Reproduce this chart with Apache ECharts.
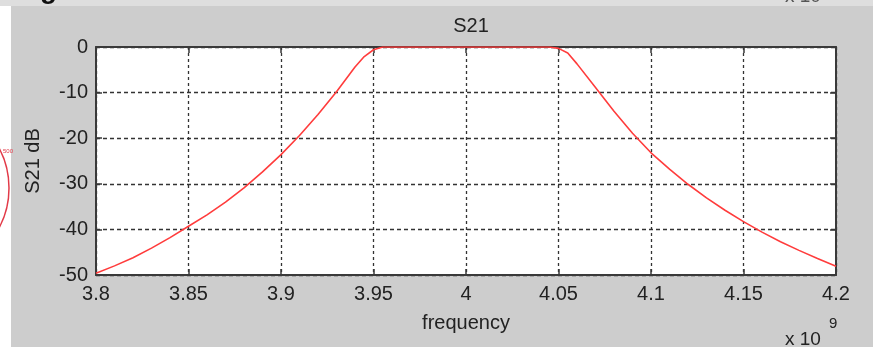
<!DOCTYPE html>
<html>
<head>
<meta charset="utf-8">
<script src="https://cdn.jsdelivr.net/npm/echarts@6/dist/echarts.min.js"></script>
<style>
html,body{margin:0;padding:0;background:#cdcdcd;}
#chart{width:873px;height:347px;}
</style>
</head>
<body>
<div id="chart"></div>
<script>
// Frequency in units of 1e9 Hz
var freq = [3.80, 3.81, 3.82, 3.83, 3.84, 3.85, 3.86, 3.87, 3.88, 3.89, 3.90, 3.91, 3.92, 3.93, 3.94, 3.945, 3.95, 3.955, 4.00, 4.045, 4.05, 4.055, 4.06, 4.07, 4.08, 4.09, 4.10, 4.11, 4.12, 4.13, 4.14, 4.15, 4.16, 4.17, 4.18, 4.19, 4.20];
var s21dB = [-49.6, -48.0, -46.2, -44.1, -41.8, -39.3, -36.8, -34.0, -30.9, -27.4, -23.6, -19.4, -14.8, -9.8, -4.4, -2.1, -0.6, 0, 0, 0, -0.3, -1.3, -3.7, -8.9, -14.1, -18.9, -23.2, -26.8, -30.1, -33.1, -35.8, -38.3, -40.6, -42.7, -44.6, -46.4, -48.1];
var xTicks = {min: 3.8, max: 4.2, interval: 0.05};
var yTicks = {min: -50, max: 0, interval: 10};
var titleText = 'S21';
var xName = 'frequency';
var yName = 'S21 dB';

var chart = echarts.init(document.getElementById('chart'), null, {renderer: 'canvas'});
var font = 'Liberation Sans, Arial, sans-serif';
var txt = '#222222';
var axisCol = '#3a3a3a';
var pts = freq.map(function (f, i) { return [f, s21dB[i]]; });

function baseX(pos, labels) {
  return {
    type: 'value', position: pos,
    min: xTicks.min, max: xTicks.max, interval: xTicks.interval,
    axisLine: {show: true, onZero: false, lineStyle: {color: axisCol, width: 2}},
    axisTick: {show: true, inside: true, length: 6, lineStyle: {color: axisCol, width: 1.5}},
    axisLabel: {show: labels, margin: 9, color: txt, fontSize: 20, fontFamily: font,
      formatter: function (v) { return String(+v.toFixed(2)); }},
    splitLine: {show: labels, lineStyle: {color: '#333333', width: 1.3, type: [3, 3]}}
  };
}
function baseY(pos, labels) {
  return {
    type: 'value', position: pos,
    min: yTicks.min, max: yTicks.max, interval: yTicks.interval,
    axisLine: {show: true, onZero: false, lineStyle: {color: axisCol, width: 2}},
    axisTick: {show: true, inside: true, length: 6, lineStyle: {color: axisCol, width: 1.5}},
    axisLabel: {show: labels, margin: 8, color: txt, fontSize: 20, fontFamily: font},
    splitLine: {show: labels, lineStyle: {color: '#333333', width: 1.3, type: [4, 3]}}
  };
}

var xa = baseX('bottom', true);
xa.name = xName; xa.nameLocation = 'middle'; xa.nameGap = 38;
xa.nameTextStyle = {color: txt, fontSize: 20, fontFamily: font};
var ya = baseY('left', true);
ya.name = yName; ya.nameLocation = 'middle'; ya.nameGap = 53;
ya.nameTextStyle = {color: txt, fontSize: 20, fontFamily: font};

chart.setOption({
  backgroundColor: '#cdcdcd',
  animation: false,
  title: {
    text: titleText, left: 466, top: 11, textAlign: 'center',
    textStyle: {color: txt, fontSize: 20, fontWeight: 'normal', fontFamily: font}
  },
  grid: {left: 96, right: 37, top: 47, bottom: 72, show: true, backgroundColor: '#ffffff', borderWidth: 0},
  xAxis: [xa, baseX('top', false)],
  yAxis: [ya, baseY('right', false)],
  series: [{
    type: 'line', xAxisIndex: 0, yAxisIndex: 0, data: pts,
    showSymbol: false, smooth: false,
    lineStyle: {color: '#ff3c3c', width: 1.6}, z: 5
  }],
  graphic: [
    {type: 'rect', left: 0, top: 0, shape: {width: 873, height: 6}, style: {fill: '#dedede'}, z: -1},
    {type: 'rect', left: 0, top: 6, shape: {width: 11, height: 341}, style: {fill: '#ffffff'}, z: -1},
    {type: 'arc', shape: {cx: -75, cy: 188, r: 84, startAngle: -0.7, endAngle: 0.7}, style: {stroke: '#e23a48', lineWidth: 1.5, fill: null}, z: 1},
    {type: 'text', x: 3, y: 148, style: {text: '500', fill: '#e23a48', fontSize: 6, fontFamily: font}, z: 1},
    {type: 'text', x: 40, y: 4, style: {text: 'g', fill: '#111', fontSize: 28, fontWeight: 'bold', fontFamily: font, verticalAlign: 'bottom'}, z: 1},
    {type: 'text', x: 785, y: -13, style: {text: 'x 10', fill: '#555', fontSize: 19, fontFamily: font}, z: 1},
    {type: 'text', x: 785, y: 330, style: {text: 'x 10', fill: txt, fontSize: 19, fontFamily: font}, z: 1},
    {type: 'text', x: 829, y: 316, style: {text: '9', fill: txt, fontSize: 15, fontFamily: font}, z: 1}
  ]
});
</script>
</body>
</html>
